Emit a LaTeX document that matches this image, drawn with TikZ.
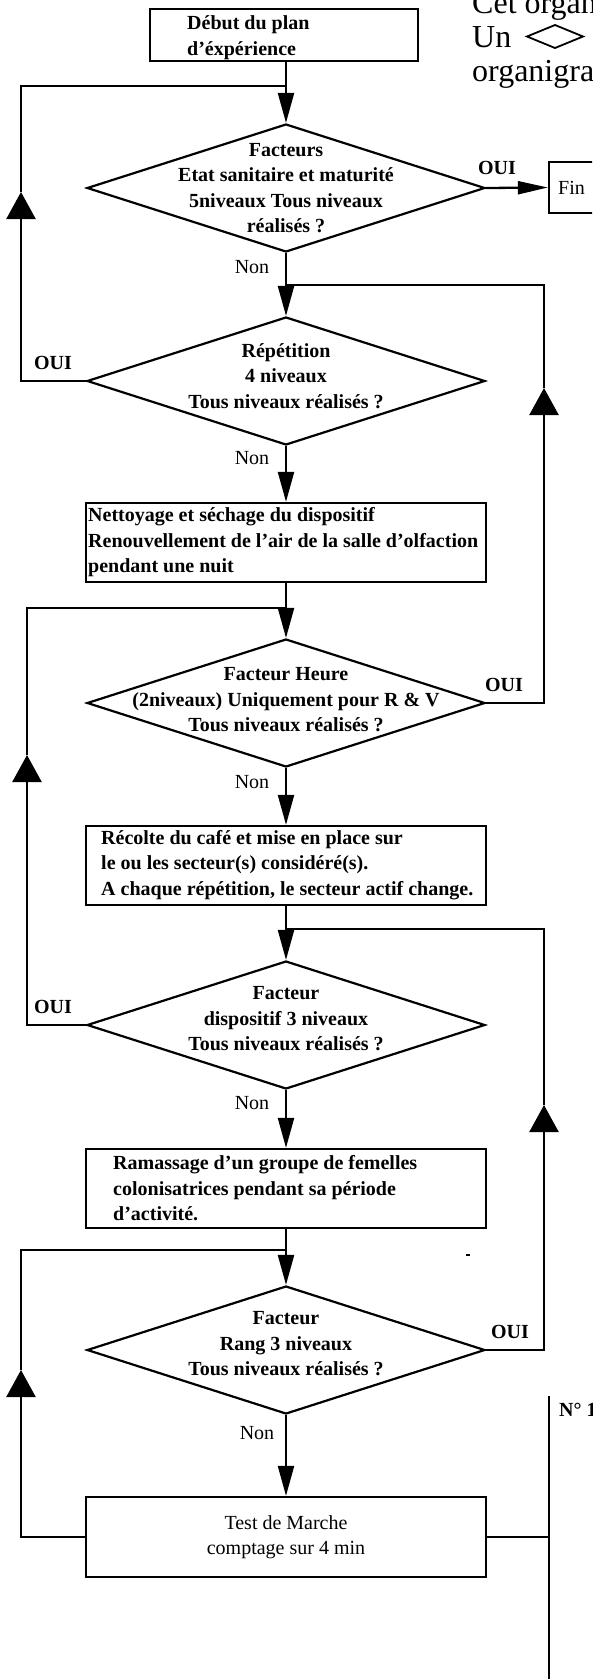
\documentclass[tikz,border=0pt]{standalone}
\usepackage{fontspec}
\setmainfont{Liberation Serif}
\usetikzlibrary{arrows.meta,shapes.geometric}
\begin{document}
\begin{tikzpicture}[x=1pt,y=-1pt,
  procbox/.style={draw, rectangle, line width=2.3pt, inner sep=0pt},
  decision/.style={draw, diamond, line width=2.2pt, inner sep=0pt, minimum width=398pt, minimum height=128pt},
  tb/.style={inner sep=0pt, font=\fontsize{20}{25.5}\selectfont\bfseries},
  tr/.style={inner sep=0pt, font=\fontsize{20}{25.5}\selectfont},
  flow/.style={line width=2.3pt, -{Triangle[length=30pt,width=16pt]}},
  finflow/.style={line width=2.3pt, -{Triangle[length=30pt,width=13pt]}},
  upflow/.style={line width=2.3pt, -{Triangle[length=27pt,width=29pt]}},
  link/.style={line width=2.3pt},
  thinlink/.style={line width=1.2pt},
  bigtxt/.style={inner sep=0pt, anchor=base west, font=\fontsize{32}{34}\selectfont}
]
\useasboundingbox (0,0) rectangle (592,1679);
\fill[white] (0,0) rectangle (592,1679);
\clip (0,0) rectangle (592,1679);

% top-right cut text
\node[bigtxt] (t1) at (472,13) {Cet organigramme};
\node[bigtxt] (t2) at (472,47) {Un};
\draw[line width=1.8pt] (527,36.5) -- (555,25) -- (583,36.5) -- (555,48) -- cycle;
\node[bigtxt] (t3) at (472,81) {organigramme};

% start
\node[procbox, minimum width=268pt, minimum height=52pt] (start) at (284,35) {};
\node[tb, anchor=west, align=left, font=\fontsize{20}{26}\selectfont\bfseries] (startt) at (187,38) {Début du plan\\d'éxpérience};

% decisions
\node[decision] (d1) at (286,188) {};
\node[tb, align=center] (d1t) at (d1.center) {Facteurs\\Etat sanitaire et maturité\\5niveaux Tous niveaux\\réalisés ?};
\node[decision] (d2) at (286,381) {};
\node[tb, align=center] (d2t) at ([yshift=5pt]d2.center) {Répétition\\4 niveaux\\Tous niveaux réalisés ?};
\node[decision] (d3) at (286,703) {};
\node[tb, align=center] (d3t) at ([yshift=3pt]d3.center) {Facteur Heure\\(2niveaux) Uniquement pour R \& V\\Tous niveaux réalisés ?};
\node[decision] (d4) at (286,1025) {};
\node[tb, align=center] (d4t) at ([yshift=6pt]d4.center) {Facteur\\dispositif 3 niveaux\\Tous niveaux réalisés ?};
\node[decision] (d5) at (286,1350) {};
\node[tb, align=center] (d5t) at ([yshift=6pt]d5.center) {Facteur\\Rang 3 niveaux\\Tous niveaux réalisés ?};

% process boxes
\node[procbox, minimum width=400pt, minimum height=79pt] (b1) at (286,542.5) {};
\node[tb, anchor=west, align=left] (b1t) at (88,542.5) {Nettoyage et séchage du dispositif\\Renouvellement de l'air de la salle d'olfaction\\pendant une nuit};
\node[procbox, minimum width=400pt, minimum height=79pt] (b2) at (286,865.5) {};
\node[tb, anchor=west, align=left] (b2t) at (101,865) {Récolte du café et mise en place sur\\le ou les secteur(s) considéré(s).\\A chaque répétition, le secteur actif change.};
\node[procbox, minimum width=400pt, minimum height=79pt] (b3) at (286,1188.5) {};
\node[tb, anchor=west, align=left] (b3t) at (113,1188.5) {Ramassage d'un groupe de femelles\\colonisatrices pendant sa période\\d'activité.};
\node[procbox, minimum width=400pt, minimum height=80pt] (b4) at (286,1537) {};
\node[tr, align=center] (b4t) at (286,1537) {Test de Marche\\comptage sur 4 min};

% Fin
\node[procbox, minimum width=80pt, minimum height=51pt] (fin) at (589,187.5) {};
\node[tr, anchor=west] (fint) at (558,188) {Fin};

% labels
\node[tb] (oui1) at (497,168) {OUI};
\node[tb] (oui2) at (53,363) {OUI};
\node[tb] (oui3) at (504,685) {OUI};
\node[tb] (oui4) at (53,1007) {OUI};
\node[tb] (oui5) at (510,1332) {OUI};
\node[tr] (non1) at (252,267) {Non};
\node[tr] (non2) at (252,458) {Non};
\node[tr] (non3) at (252,782) {Non};
\node[tr] (non4) at (252,1103) {Non};
\node[tr] (non5) at (257,1433) {Non};
\node[tb, anchor=west] (num) at (559,1410) {N° 1};

% junction coordinates
\coordinate (J1) at (286,86);
\coordinate (J2) at (286,285);
\coordinate (J3) at (286,608);
\coordinate (J4) at (286,929);
\coordinate (J5) at (286,1250);
\coordinate (L1tip) at (21,192);
\coordinate (R1tip) at (544,388);
\coordinate (L2tip) at (27,755);
\coordinate (R2tip) at (544,1105);
\coordinate (L3tip) at (21,1370);
\coordinate (NT) at (549,1396);
\coordinate (NB) at (549,1700);

% main flow
\draw[flow] (start.south -| d1.north) -- (d1.north);
\draw[finflow] (d1.east) -- (fin.west);
\draw[flow] (d1.south) -- (d2.north);
\draw[flow] (d2.south) -- (b1.north);
\draw[flow] (b1.south) -- (d3.north);
\draw[flow] (d3.south) -- (b2.north);
\draw[flow] (b2.south) -- (d4.north);
\draw[flow] (d4.south) -- (b3.north);
\draw[flow] (b3.south) -- (d5.north);
\draw[flow] (d5.south) -- (b4.north);

% loops
\draw[upflow] (d2.west) -| (L1tip);
\draw[link] (L1tip) |- (J1);
\draw[upflow] (d3.east) -| (R1tip);
\draw[link] (R1tip) |- (J2);
\draw[upflow] (d4.west) -| (L2tip);
\draw[link] (L2tip) |- (J3);
\draw[upflow] (d5.east) -| (R2tip);
\draw[link] (R2tip) |- (J4);
\draw[upflow] (b4.west) -| (L3tip);
\draw[link] (L3tip) |- (J5);

% right side line
\draw[thinlink] (b4.east) -- (b4.east -| NT);
\draw[line width=2.3pt] (NT) -- (NB);

% stray mark
\draw[line width=1.5pt] (466,1255) -- (470,1255);
\end{tikzpicture}
\end{document}
